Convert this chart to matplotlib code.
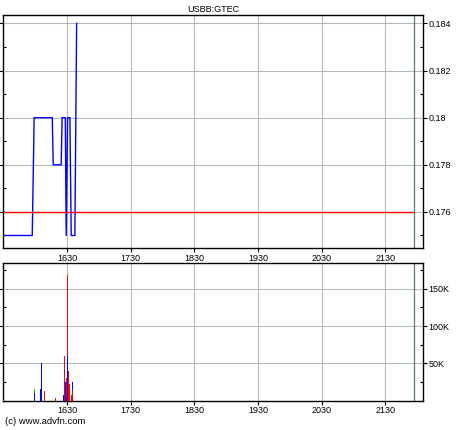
import matplotlib.pyplot as plt
from matplotlib.ticker import FixedLocator, MultipleLocator, FuncFormatter

plt.rcParams['font.family'] = ['Liberation Sans', 'DejaVu Sans']

title = 'USBB:GTEC'

# price (step-like trace)
price_t = [1529, 1575, 1578, 1606.5, 1608, 1620.5, 1622, 1627, 1628.4,
           1630.6, 1634.2, 1636.3, 1642, 1644.8]
price_v = [0.175, 0.175, 0.180, 0.180, 0.178, 0.178, 0.180, 0.180, 0.175,
           0.180, 0.180, 0.175, 0.175, 0.184]
ref_price = 0.176

# volume bars
vol_t = [1530.5, 1578, 1579, 1588, 1589, 1590, 1594, 1611,
         1624, 1625.5, 1626.5, 1627.5, 1628.5, 1630, 1631, 1632,
         1633, 1634, 1636, 1638, 1639]
vol_v = [1000, 15500, 10500, 16000, 51000, 16000, 13000, 4000,
         8000, 60000, 20000, 25000, 30000, 168000, 60000, 40000,
         22000, 10000, 8000, 25000, 15000]
vol_c = ['g', 'g', 'b', 'b', 'b', 'b', 'r', 'r',
         'b', 'r', 'r', 'b', 'r', 'r', 'b', 'r',
         'r', 'r', 'r', 'b', 'r']

x_ticks = [1630, 1730, 1830, 1930, 2030, 2130]
now_t = 2175.5
x_lo, x_hi = 1529, 2189

grid_col = '#b4b8b8'
fs = 6.5

fig = plt.figure(figsize=(4.6, 4.3), dpi=100)
ax1 = fig.add_axes([0.0065, 0.4233, 0.9125, 0.5425])
ax2 = fig.add_axes([0.0065, 0.0681, 0.9125, 0.3209])

# top panel
ax1.plot(price_t, price_v, color='#0000ff', lw=1)
ax1.plot([x_lo, now_t], [ref_price, ref_price], color='#ff0000', lw=1)
ax1.set_xlim(x_lo, x_hi)
ax1.set_ylim(0.17447, 0.18437)
ax1.yaxis.set_major_locator(MultipleLocator(0.002))
ax1.yaxis.set_minor_locator(MultipleLocator(0.001))
ax1.yaxis.set_major_formatter(FuncFormatter(lambda v, p: ('%.3f' % v).rstrip('0')))

# bottom panel
vol_colors = {'g': '#00cc00', 'b': '#0000ff', 'r': '#ff0000'}
ax2.bar(vol_t, vol_v, width=1.6, color=[vol_colors[c] for c in vol_c],
        linewidth=0, zorder=3, antialiased=False)
ax2.set_xlim(x_lo, x_hi)
ax2.set_ylim(0, 185000)
ax2.yaxis.set_major_locator(FixedLocator([50000, 100000, 150000]))
ax2.yaxis.set_minor_locator(MultipleLocator(25000))
ax2.yaxis.set_major_formatter(FuncFormatter(lambda v, p: '%dK' % (v / 1000)))

for ax in (ax1, ax2):
    ax.set_axisbelow(True)
    ax.xaxis.set_major_locator(FixedLocator(x_ticks))
    ax.grid(True, which='major', color=grid_col, lw=0.8)
    ax.axvline(now_t, color='#607878', lw=0.9)
    ax.yaxis.tick_right()
    ax.tick_params(axis='y', which='major', right=True, left=True, direction='out',
                   length=3, width=0.8, labelsize=fs, pad=1)
    ax.tick_params(axis='y', which='minor', right=True, left=True, direction='in',
                   length=2, width=0.8)
    ax.tick_params(axis='x', direction='out', length=3, width=0.8, labelsize=fs, pad=1)
    for s in ax.spines.values():
        s.set_linewidth(1)

ax1.tick_params(axis='x', labelbottom=True)

ax1.set_title(title, fontsize=fs, pad=2)
fig.text(0.011, 0.02, '(c) www.advfn.com', fontsize=6.8, ha='left', va='center')

fig.savefig('out.png', dpi=100)
